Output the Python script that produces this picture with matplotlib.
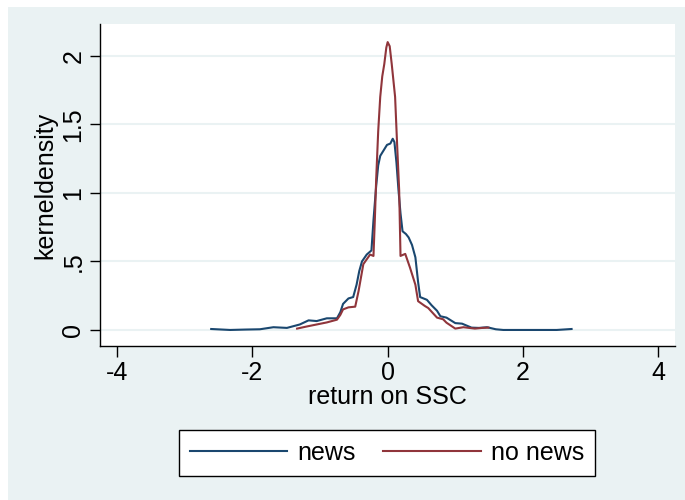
import numpy as np
import matplotlib.pyplot as plt
from matplotlib.patches import Rectangle

# kernel density estimates, read off at irregular points
news_x = [-2.61, -2.45, -2.33, -2.10, -1.89, -1.69, -1.49, -1.30, -1.17, -1.05,
          -0.90, -0.75, -0.70, -0.66, -0.58, -0.51, -0.46, -0.42, -0.38, -0.31,
          -0.24, -0.21, -0.17, -0.14, -0.11, -0.06, -0.01, 0.04, 0.06, 0.075,
          0.10, 0.13, 0.16, 0.19, 0.22, 0.27, 0.31, 0.36, 0.41, 0.45,
          0.48, 0.58, 0.65, 0.73, 0.78, 0.87, 1.00, 1.10, 1.24, 1.35,
          1.47, 1.60, 1.71, 2.10, 2.50, 2.72]
news_y = [0.007, 0.003, 0.0, 0.003, 0.005, 0.02, 0.015, 0.04, 0.07, 0.065,
          0.085, 0.085, 0.13, 0.19, 0.23, 0.24, 0.33, 0.43, 0.50, 0.55,
          0.58, 0.80, 1.05, 1.20, 1.27, 1.31, 1.35, 1.36, 1.38, 1.395,
          1.37, 1.22, 1.02, 0.85, 0.72, 0.70, 0.675, 0.62, 0.53, 0.35,
          0.24, 0.22, 0.18, 0.14, 0.10, 0.09, 0.05, 0.046, 0.017, 0.015,
          0.02, 0.005, 0.0, 0.0, 0.0, 0.007]

nonews_x = [-1.34, -1.20, -1.05, -0.90, -0.75, -0.70, -0.66, -0.58, -0.48, -0.43,
            -0.36, -0.26, -0.21, -0.19, -0.17, -0.14, -0.11, -0.08, -0.05, -0.02,
            0.00, 0.03, 0.06, 0.11, 0.14, 0.17, 0.19, 0.26, 0.33, 0.41,
            0.45, 0.55, 0.60, 0.73, 0.82, 0.87, 1.00, 1.12, 1.29, 1.40,
            1.49]
nonews_y = [0.01, 0.025, 0.04, 0.055, 0.075, 0.11, 0.15, 0.165, 0.17, 0.285,
            0.48, 0.55, 0.54, 0.80, 1.10, 1.45, 1.70, 1.85, 1.94, 2.06,
            2.10, 2.07, 1.94, 1.70, 1.35, 1.02, 0.54, 0.555, 0.455, 0.33,
            0.21, 0.175, 0.16, 0.09, 0.078, 0.053, 0.01, 0.02, 0.01, 0.015,
            0.017]

x_ticks = [-4, -2, 0, 2, 4]
y_ticks = [0, 0.5, 1, 1.5, 2]
y_ticklabels = ['0', '.5', '1', '1.5', '2']

navy = '#1a476f'
maroon = '#90353b'
bg = '#eaf2f3'
fs = 18

plt.rcParams['font.family'] = ['Liberation Sans', 'DejaVu Sans']

fig = plt.figure(figsize=(6.85, 5.0), dpi=100, facecolor='white')
fig.patches.append(Rectangle((8 / 685, 0), 1, 1 - 7 / 500, transform=fig.transFigure,
                             facecolor=bg, edgecolor='none', zorder=-10))

ax = fig.add_axes([100 / 685, 1 - 346 / 500, 575 / 685, 322 / 500])
ax.set_facecolor('white')

ax.plot(news_x, news_y, color=navy, lw=1.5, label='news')
ax.plot(nonews_x, nonews_y, color=maroon, lw=1.5, label='no news')

ax.set_xlim(-4.255, 4.25)
ax.set_ylim(-0.117, 2.232)
ax.set_xticks(x_ticks)
ax.set_xticklabels([str(t) for t in x_ticks])
ax.set_yticks(y_ticks)
ax.set_yticklabels(y_ticklabels, rotation=90, va='center')

for y in y_ticks:
    ax.axhline(y, color=bg, lw=1.5, zorder=0)

for s in ['top', 'right']:
    ax.spines[s].set_visible(False)
for s in ['left', 'bottom']:
    ax.spines[s].set_linewidth(1.0)

ax.tick_params(axis='x', length=8, width=1, pad=3, labelsize=fs)
ax.tick_params(axis='y', length=7.5, width=1, pad=3, labelsize=fs)

ax.set_xlabel('return on SSC', fontsize=fs, labelpad=0)
ax.set_ylabel('kerneldensity', fontsize=fs, labelpad=3)

leg = fig.legend(loc='center', bbox_to_anchor=(387 / 685, 1 - 453 / 500), ncol=2,
                 fontsize=fs, frameon=True, fancybox=False, edgecolor='black',
                 facecolor='white', framealpha=1, handlelength=3.9,
                 handletextpad=0.4, columnspacing=1.1, borderpad=0.45)
leg.get_frame().set_linewidth(1.0)

fig.savefig('out.png', dpi=100, facecolor=fig.get_facecolor())
